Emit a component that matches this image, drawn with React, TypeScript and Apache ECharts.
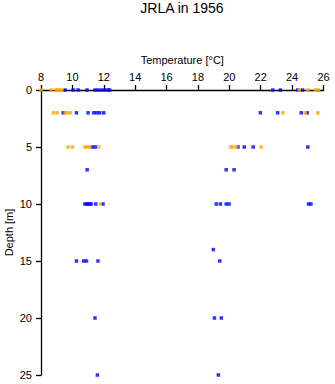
import React, { useEffect, useRef } from "react";
import * as echarts from "echarts";

// [temperature °C, depth m]
const orangePoints: [number, number][] = [
  [8.0, 0], [8.65, 0], [8.95, 0], [9.05, 0], [9.2, 0], [9.33, 0], [24.45, 0], [25.0, 0], [25.47, 0], [25.68, 0],
  [8.78, 2], [9.03, 2], [9.54, 2], [9.67, 2], [9.88, 2], [23.42, 2], [24.84, 2], [25.64, 2],
  [9.73, 5], [10.0, 5], [10.79, 5], [10.94, 5], [11.1, 5], [11.68, 5], [20.08, 5], [20.23, 5], [20.45, 5], [22.03, 5],
  [11.78, 10],
];

const bluePoints: [number, number][] = [
  [9.54, 0], [10.05, 0], [10.36, 0], [10.93, 0], [11.44, 0], [11.63, 0], [11.85, 0], [12.06, 0], [12.27, 0], [12.37, 0],
  [22.77, 0], [23.25, 0], [24.35, 0], [24.67, 0],
  [9.41, 2], [10.26, 2], [11.0, 2], [11.36, 2], [11.55, 2], [11.74, 2], [12.0, 2], [21.98, 2], [23.08, 2], [24.58, 2], [24.96, 2],
  [11.27, 5], [11.46, 5], [20.55, 5], [20.95, 5], [21.52, 5], [25.0, 5],
  [10.94, 7], [19.8, 7], [20.3, 7],
  [10.8, 10], [10.9, 10], [11.0, 10], [11.1, 10], [11.2, 10], [11.49, 10], [11.95, 10],
  [19.17, 10], [19.43, 10], [19.8, 10], [19.98, 10], [25.05, 10], [25.2, 10],
  [18.98, 14],
  [10.26, 15], [10.72, 15], [10.9, 15], [11.63, 15], [19.39, 15],
  [11.44, 20], [19.05, 20], [19.49, 20],
  [11.59, 25], [19.3, 25],
];

const titleText = "JRLA in 1956";
const xName = "Temperature [°C]";
const yName = "Depth [m]";

export default function App() {
  const ref = useRef<HTMLDivElement>(null);
  useEffect(() => {
    document.body.style.margin = "0";
    const chart = echarts.init(ref.current!, null, { renderer: "svg" });
    const font = "Liberation Sans, Arial, sans-serif";
    chart.setOption({
      animation: false,
      backgroundColor: "#ffffff",
      textStyle: { fontFamily: font },
      title: {
        text: titleText,
        left: 182,
        top: 1,
        padding: 0,
        textAlign: "center",
        textStyle: { fontSize: 14, fontWeight: "normal", color: "#000", fontFamily: font },
      },
      grid: { left: 41, right: 11.5, top: 90, bottom: 9, containLabel: false, outerBoundsMode: "none" },
      xAxis: {
        type: "value",
        position: "top",
        min: 8,
        max: 26,
        interval: 2,
        name: xName,
        nameLocation: "middle",
        nameGap: 25,
        nameMoveOverlap: false,
        nameTextStyle: { fontSize: 11, color: "#000", fontFamily: font },
        axisLine: { show: true, onZero: false, lineStyle: { color: "#000", width: 1.3 } },
        axisTick: { show: true, length: 5, lineStyle: { color: "#000", width: 1.3 } },
        axisLabel: { fontSize: 11, color: "#000", margin: 8, fontFamily: font },
        splitLine: { show: false },
      },
      yAxis: {
        type: "value",
        inverse: true,
        min: 0,
        max: 25,
        interval: 5,
        name: yName,
        nameLocation: "middle",
        nameGap: 27,
        nameMoveOverlap: false,
        nameTextStyle: { fontSize: 11, color: "#000", fontFamily: font },
        axisLine: { show: true, onZero: false, lineStyle: { color: "#000", width: 1.3 } },
        axisTick: { show: true, length: 5, lineStyle: { color: "#000", width: 1.3 } },
        axisLabel: { fontSize: 11, color: "#000", margin: 9, fontFamily: font },
        splitLine: { show: false },
      },
      series: [
        {
          type: "scatter",
          data: bluePoints,
          symbol: "rect",
          symbolSize: 3.5,
          itemStyle: { color: "#0000ff" },
          clip: false,
        },
        {
          type: "scatter",
          data: orangePoints,
          symbol: "rect",
          symbolSize: 3.5,
          itemStyle: { color: "#ffa500" },
          clip: false,
        },
      ],
    });
    return () => chart.dispose();
  }, []);
  return <div ref={ref} style={{ width: 335, height: 384 }} />;
}
